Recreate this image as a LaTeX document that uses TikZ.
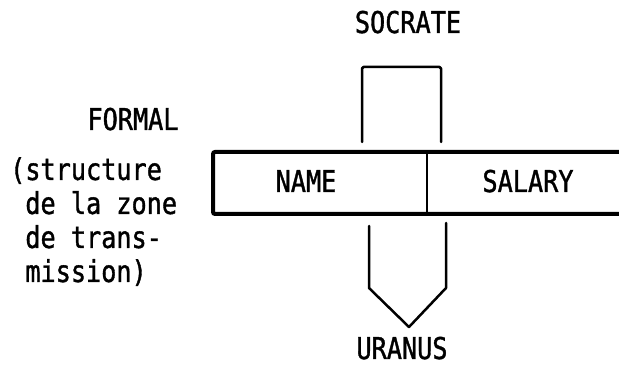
\documentclass[tikz,border=0pt]{standalone}
\usepackage{fontspec}
\newfontfamily\diagfont[FakeStretch=0.84, FakeBold=1.2]{DejaVu Sans Mono}
\begin{document}
\begin{tikzpicture}[x=1pt,y=1pt,
  lbl/.style={font=\diagfont\fontsize{30}{29.5}\selectfont, inner sep=0pt},
  recline/.style={line width=4pt, rounded corners=2pt},
  thinline/.style={line width=2.5pt, line join=round, line cap=round}]
\useasboundingbox (0,0) rectangle (619,367);
\clip (0,0) rectangle (619,367);
% record box
\coordinate (boxNW) at (213,215);
\coordinate (boxSE) at (640,153);
\draw[recline] (boxNW) rectangle (boxSE);
\coordinate (divT) at (427,215);
\coordinate (divB) at (427,153);
\draw[line width=2.5pt] (divT) -- (divB);
\node[lbl, anchor=base] (name) at (306,175) {NAME};
\node[lbl, anchor=base] (salary) at (528,175) {SALARY};
% upper bracket (input)
\coordinate (uL) at (362,225);
\coordinate (uR) at (441,225);
\draw[thinline, rounded corners=1.5pt] (uL) -- (362,300) -- (441,300) -- (uR);
\node[lbl, anchor=base] (socrate) at (408,334) {SOCRATE};
% lower pointer (output)
\coordinate (lL) at (369,141);
\coordinate (lR) at (446,144);
\coordinate (tip) at (409,40);
\draw[thinline] (lL) -- (369,79) -- (tip) -- (446,79) -- (lR);
\node[lbl, anchor=base] (uranus) at (402,8) {URANUS};
% left labels
\node[lbl, anchor=base] (formal) at (133,237) {FORMAL};
\node[lbl, anchor=north west, align=left] (descr) at (10,210)
  {(structure\\[4.5pt]\hphantom{(}de la zone\\[4.5pt]\hphantom{(}de trans-\\[4.5pt]\hphantom{(}mission)};
\end{tikzpicture}
\end{document}
